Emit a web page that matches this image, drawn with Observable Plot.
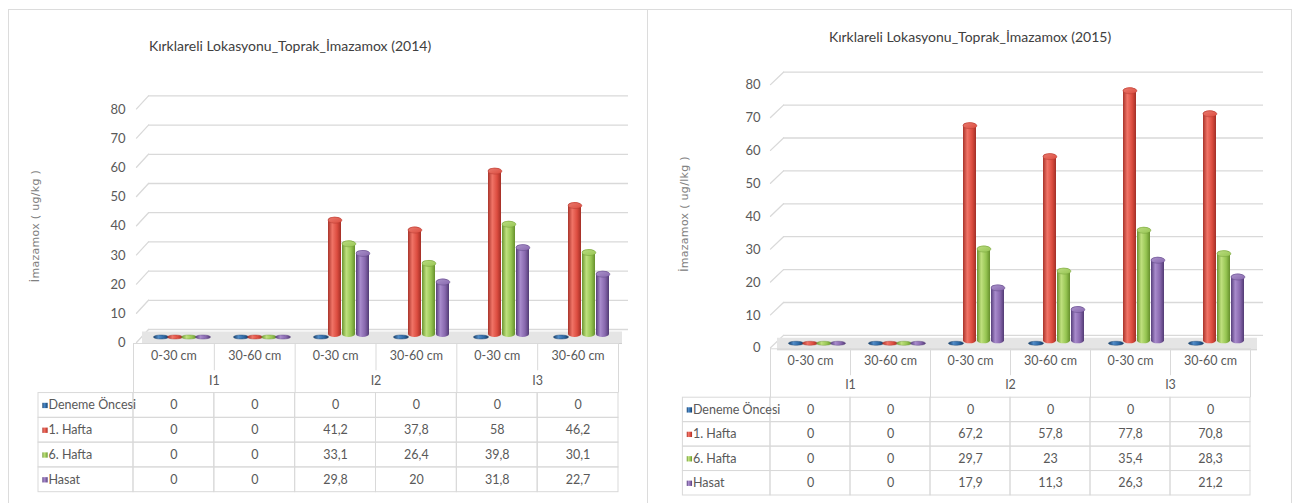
<!DOCTYPE html>
<html>
<head>
<meta charset="utf-8">
<script src="https://cdn.jsdelivr.net/npm/d3@7"></script>
<script src="https://cdn.jsdelivr.net/npm/@observablehq/plot@0.6"></script>
<style>
  html, body { margin: 0; padding: 0; background: #fff; }
  body { position: relative; width: 1294px; height: 503px; overflow: hidden; }
  .panel { position: absolute; border: 1px solid #dcdcdc; box-sizing: border-box; }
  .slot { position: absolute; }
  .title { position: absolute; transform: translate(-50%, -50%); white-space: nowrap;
           font-family: Lato, "Liberation Sans", sans-serif;
           font-size: 14px; color: #404040; }
  .ytitle { position: absolute; transform: translate(-50%, -50%) rotate(-90deg); white-space: nowrap;
            font-family: "DejaVu Sans", sans-serif; font-size: 11px; letter-spacing: 0.3px; color: #808080; }
</style>
</head>
<body>
<svg width="0" height="0" style="position:absolute"><defs id="shading"></defs></svg>
<div class="panel" style="left:8px;top:9px;width:640px;height:520px"></div>
<div class="panel" style="left:647px;top:9px;width:645px;height:520px"></div>
<div id="root"></div>
<script>
// ---- data -------------------------------------------------------------
const groups = ["I1", "I2", "I3"];
const depths = ["0-30 cm", "30-60 cm"];
const series = ["Deneme Öncesi", "1. Hafta", "6. Hafta", "Hasat"];
const yTicks = [0, 10, 20, 30, 40, 50, 60, 70, 80];

// 2014 season, one value per column (I1 0-30, I1 30-60, I2 0-30, ...)
const deneme2014 = [0, 0, 0, 0, 0, 0];
const hafta1_2014 = [0, 0, 41.2, 37.8, 58, 46.2];
const hafta6_2014 = [0, 0, 33.1, 26.4, 39.8, 30.1];
const hasat2014 = [0, 0, 29.8, 20, 31.8, 22.7];

// 2015 season
const deneme2015 = [0, 0, 0, 0, 0, 0];
const hafta1_2015 = [0, 0, 67.2, 57.8, 77.8, 70.8];
const hafta6_2015 = [0, 0, 29.7, 23, 35.4, 28.3];
const hasat2015 = [0, 0, 17.9, 11.3, 26.3, 21.2];

const titles = ["Kırklareli Lokasyonu_Toprak_İmazamox (2014)", "Kırklareli Lokasyonu_Toprak_İmazamox (2015)"];
const yTitles = ["İmazamox ( ug/kg )", "İmazamox ( ug/lkg )"];

// ---- styling ----------------------------------------------------------
const FONT = 'Lato, "Liberation Sans", sans-serif';
const GRID = "#d9d9d9";
// cylinder shading per series: dark edge, highlight, body, dark edge, top face
const palette = [
  ["#173f69", "#4f8bc8", "#2c67a3", "#163a62", "#4a82bd"],
  ["#a9332a", "#f07467", "#dc4c3f", "#a22f26", "#ea7a6e"],
  ["#6b9632", "#bfe07e", "#96c552", "#66902c", "#bbdc80"],
  ["#573f7c", "#a88bcc", "#8767ad", "#523b74", "#ab93cb"]
];

const defs = document.getElementById("shading");
defs.innerHTML = palette.map((p, k) => `
  <linearGradient id="body${k}" x1="0" x2="1" y1="0" y2="0">
    <stop offset="0" stop-color="${p[0]}"/><stop offset="0.33" stop-color="${p[1]}"/>
    <stop offset="0.7" stop-color="${p[2]}"/><stop offset="1" stop-color="${p[3]}"/>
  </linearGradient>
  <linearGradient id="cap${k}" x1="0" x2="1" y1="0" y2="1">
    <stop offset="0" stop-color="${p[4]}"/><stop offset="1" stop-color="${p[2]}"/>
  </linearGradient>`).join("");

// ---- helpers ----------------------------------------------------------
const columns = groups.flatMap(g => depths.map(d => ({group: g, depth: d, key: `${g} ${d}`})));
const colKeys = columns.map(c => c.key);
const fmt = v => String(v).replace(".", ",");

function seriesRows(seriesValues) {
  return series.flatMap((s, k) => columns.map((c, i) => ({
    series: s, k, key: c.key, col: i, value: seriesValues[k][i]
  })));
}

// flattened ellipse symbol (tops of the cylinders and the empty discs)
function ellipse(ratio) {
  return {
    draw(ctx, size) {
      const rx = Math.sqrt(size / Math.PI), ry = rx * ratio, c = 0.5523;
      ctx.moveTo(-rx, 0);
      ctx.bezierCurveTo(-rx, -ry * c, -rx * c, -ry, 0, -ry);
      ctx.bezierCurveTo(rx * c, -ry, rx, -ry * c, rx, 0);
      ctx.bezierCurveTo(rx, ry * c, rx * c, ry, 0, ry);
      ctx.bezierCurveTo(-rx * c, ry, -rx, ry * c, -rx, 0);
      ctx.closePath();
    }
  };
}

function drawChart(cfg, seriesValues) {
  const rows = seriesRows(seriesValues);
  const lift = cfg.front + cfg.depthY;
  const marks = [
    // back wall grid and the slanted side wall
    Plot.ruleY(yTicks, {dx: cfg.depthX, dy: -cfg.depthY, stroke: GRID, strokeWidth: 1.3}),
    Plot.vector(yTicks, {
      fx: () => colKeys[0], y: d => d, frameAnchor: "left", dy: cfg.front, anchor: "start",
      length: Math.hypot(cfg.depthX, lift), rotate: Math.atan2(cfg.depthX, lift) * 180 / Math.PI,
      r: 0, stroke: GRID, strokeWidth: 1.3
    }),
    // floor
    Plot.ruleY([0], {dx: cfg.barDx, strokeWidth: 12, stroke: "#e5e5e5"}),
    Plot.ruleY([0], {dx: cfg.barDx, dy: 6, stroke: "#cfcfcf"})
  ];
  series.forEach((s, k) => {
    const own = rows.filter(d => d.k === k);
    const up = own.filter(d => d.value > 0);
    const flat = own.filter(d => d.value === 0);
    marks.push(
      Plot.barY(up, {fx: "key", x: "series", y: "value", fill: `url(#body${k})`, rx: 7, ry: 3, dx: cfg.barDx}),
      Plot.dot(up, {fx: "key", x: "series", y: "value", dx: cfg.barDx, dy: 3, r: 6.9,
        symbol: ellipse(0.43), fill: `url(#cap${k})`, stroke: palette[k][0], strokeWidth: 0.4}),
      Plot.dot(flat, {fx: "key", x: "series", y: "value", dx: cfg.barDx, dy: -0.5, r: 7.5,
        symbol: ellipse(0.27), fill: `url(#body${k})`, stroke: palette[k][0], strokeWidth: 0.4})
    );
  });
  marks.push(Plot.axisY(yTicks, {tickSize: 0, tickPadding: cfg.tickPad, dy: cfg.labelDy, label: null, fontSize: 13}));

  return Plot.plot({
    width: cfg.width, height: cfg.height,
    marginLeft: cfg.mL, marginRight: cfg.mR, marginTop: cfg.mT, marginBottom: cfg.mB,
    style: {background: "transparent", fontFamily: FONT, fontSize: "13px", color: "#595959", overflow: "visible"},
    fx: {domain: colKeys, padding: 0, axis: null},
    x: {domain: series, paddingInner: 0.07, paddingOuter: 0.73, axis: null},
    y: {domain: [0, 80], axis: null},
    marks
  });
}

function drawTable(cfg, seriesValues) {
  const rows = seriesRows(seriesValues);
  const colPx = (cfg.width - cfg.mL - cfg.mR) / columns.length;
  const labelW = cfg.labelPx / colPx;
  const head = 2;
  return Plot.plot({
    width: cfg.width, height: cfg.height,
    marginLeft: cfg.mL, marginRight: cfg.mR, marginTop: cfg.mT, marginBottom: cfg.mB,
    style: {background: "transparent", fontFamily: FONT, fontSize: "12.5px", color: "#595959", overflow: "visible"},
    x: {domain: [0, columns.length], axis: null},
    y: {domain: [0, head + series.length], reverse: true, axis: null},
    marks: [
      Plot.rect(rows, {x1: "col", x2: d => d.col + 1, y1: d => d.k + head, y2: d => d.k + head + 1, fill: "none", stroke: GRID}),
      Plot.rect(series, {x1: -labelW, x2: 0, y1: (d, k) => k + head, y2: (d, k) => k + head + 1, fill: "none", stroke: GRID}),
      Plot.ruleY([0], {x1: 0, x2: columns.length, stroke: GRID}),
      Plot.ruleX(d3.range(columns.length + 1), {x: d => d, y1: 0, y2: d => d % depths.length === 0 ? head : 1.1, stroke: GRID}),
      Plot.text(columns, {x: (d, i) => i + 0.5, y: 0.5, text: "depth"}),
      Plot.text(groups, {x: (d, g) => (g + 0.5) * depths.length, y: 1.5, text: d => d}),
      Plot.text(rows, {x: d => d.col + 0.5, y: d => d.k + head + 0.5, text: d => fmt(d.value)}),
      Plot.text(series, {x: -labelW, dx: 10, y: (d, k) => k + head + 0.5, text: d => d, textAnchor: "start"}),
      ...series.map((s, k) => Plot.dot([s], {x: -labelW, dx: 6.5, y: k + head + 0.5, symbol: "square", r: 3, fill: `url(#body${k})`}))
    ]
  });
}

// ---- layout -----------------------------------------------------------
const panels = [
  {
    values: [deneme2014, hafta1_2014, hafta6_2014, hasat2014],
    chart: {left: 0, top: 0, width: 645, height: 347, mL: 133, mR: 27, mT: 103.4, mB: 10,
            depthX: 12, depthY: 8, front: 5, barDx: 6, tickPad: 11, labelDy: 5.5},
    table: {left: 0, top: 340, width: 645, height: 160, mL: 133, mR: 27, mT: 3, mB: 8.3, labelPx: 95},
    title: [290, 45], yTitle: [35, 226]
  },
  {
    values: [deneme2015, hafta1_2015, hafta6_2015, hasat2015],
    chart: {left: 645, top: 0, width: 649, height: 353, mL: 125, mR: 44, mT: 80.1, mB: 9.7,
            depthX: 13, depthY: 8.4, front: 4, barDx: 7, tickPad: 10, labelDy: 4.5},
    table: {left: 645, top: 345, width: 649, height: 155, mL: 125, mR: 44, mT: 3.3, mB: 5, labelPx: 87.6},
    title: [970, 36], yTitle: [684, 214]
  }
];

const root = document.getElementById("root");
panels.forEach((p, i) => {
  for (const [cfg, draw] of [[p.chart, drawChart], [p.table, drawTable]]) {
    const slot = document.createElement("div");
    slot.className = "slot";
    Object.assign(slot.style, {left: cfg.left + "px", top: cfg.top + "px", width: cfg.width + "px", height: cfg.height + "px"});
    slot.appendChild(draw(cfg, p.values));
    root.appendChild(slot);
  }
  const t = document.createElement("div");
  t.className = "title";
  t.textContent = titles[i];
  Object.assign(t.style, {left: p.title[0] + "px", top: p.title[1] + "px"});
  root.appendChild(t);
  const yt = document.createElement("div");
  yt.className = "ytitle";
  yt.textContent = yTitles[i];
  Object.assign(yt.style, {left: p.yTitle[0] + "px", top: p.yTitle[1] + "px"});
  root.appendChild(yt);
});
</script>
</body>
</html>
